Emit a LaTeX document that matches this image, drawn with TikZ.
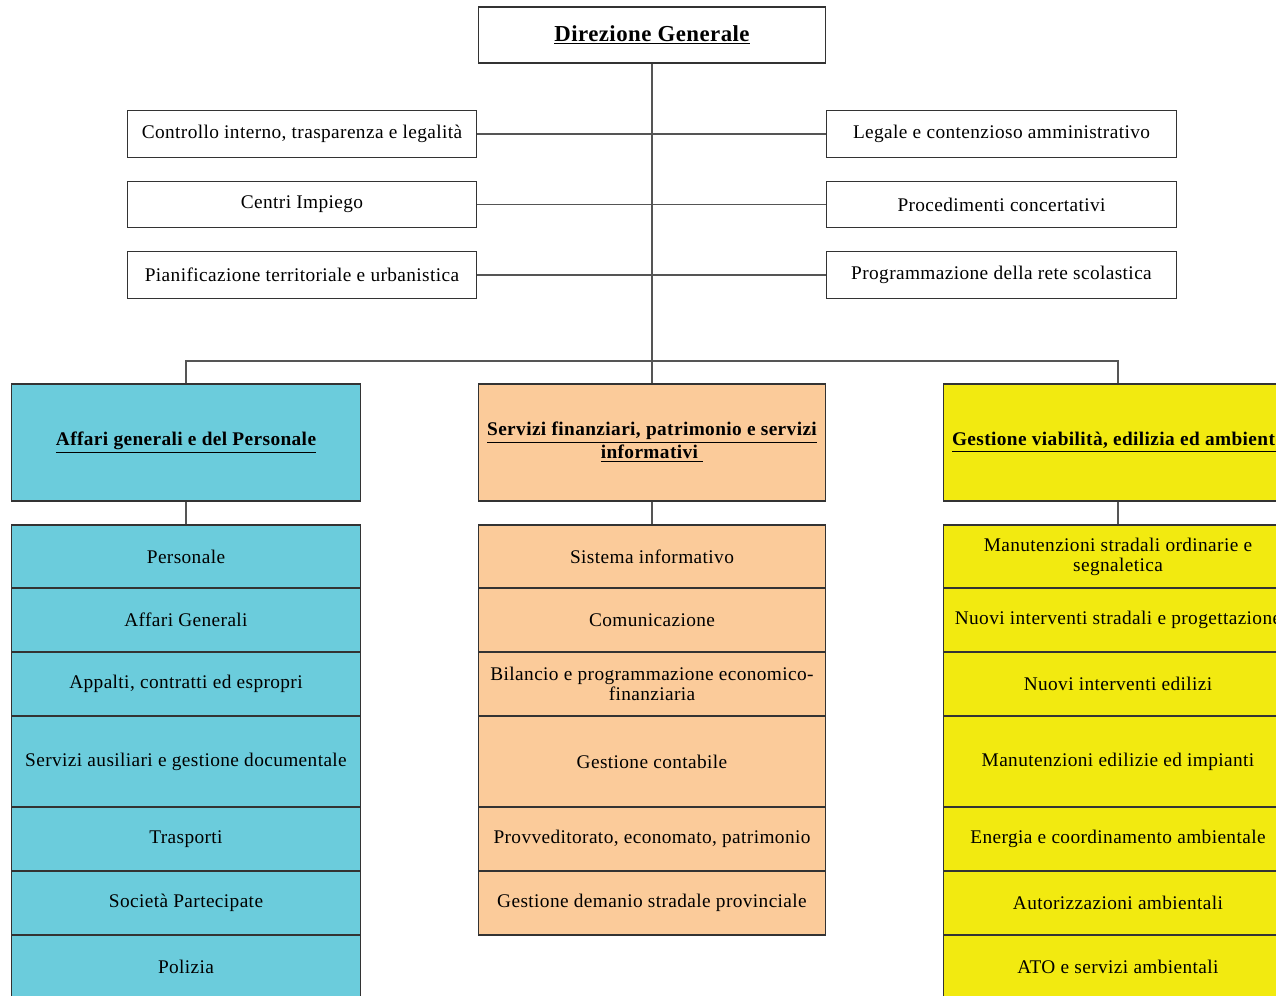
\documentclass[tikz,border=0pt]{standalone}
\usepackage{fontspec}
\setmainfont[LetterSpace=2]{Liberation Serif}
\definecolor{boxline}{HTML}{333333}
\definecolor{linecol}{HTML}{555555}
\definecolor{affcol}{HTML}{6BCCDC}
\definecolor{sercol}{HTML}{FBCB9A}
\definecolor{gescol}{HTML}{F2EA10}
\tikzset{
  box/.style={draw=boxline, line width=0.6pt, inner sep=0pt, align=center,
    font=\fontsize{11}{11.5}\selectfont},
  staff/.style={box, minimum width=7cm, minimum height=0.93cm},
  area/.style={box, minimum width=7cm, minimum height=2.34cm,
    font=\bfseries\fontsize{11}{11.5}\selectfont},
  unit/.style={box, minimum width=7cm},
  link/.style={draw=linecol, line width=0.6pt}
}

\begin{document}
\begin{tikzpicture}[x=0.02cm, y=-0.02cm]
\useasboundingbox (0,0) rectangle (1276,996);
\clip (0,0) rectangle (1276,996);

% top
\node[box, minimum width=6.96cm, minimum height=1.12cm,
  font=\bfseries\fontsize{13}{14}\selectfont] (dg) at (652,35) {\underline{Direzione Generale}};

% staff offices
\node[staff] (ctrl) at (302,134) {Controllo interno, trasparenza e legalità};
\node[staff] (centri) at (302,204.5) {Centri Impiego};
\node[staff] (pianif) at (302,275) {Pianificazione territoriale e urbanistica};
\node[staff] (legale) at (1001.5,134) {Legale e contenzioso amministrativo};
\node[staff] (proced) at (1001.5,204.5) {Procedimenti concertativi};
\node[staff] (progr) at (1001.5,275) {Programmazione della rete scolastica};

% areas
\node[area, fill=affcol] (affari) at (186,442.5) {\underline{Affari generali e del Personale}};
\node[area, fill=sercol, minimum width=6.96cm] (servizi) at (652,442.5)
  {\underline{Servizi finanziari, patrimonio e servizi}\\\underline{informativi\ }};
\node[area, fill=gescol] (gestione) at (1118,442.5) {\underline{Gestione viabilità, edilizia ed ambiente}};

% units
\foreach \n/\y/\h/\t in {1/556.5/63/Personale, 2/620/64/Affari Generali,
    3/684/64/{Appalti, contratti ed espropri}, 4/761.5/91/Servizi ausiliari e gestione documentale,
    5/839/64/Trasporti, 6/903/64/Società Partecipate, 7/967/64/Polizia}
  \node[unit, fill=affcol, minimum height=\h*0.02cm] (a\n) at (186,\y) {\t};

\foreach \n/\y/\h/\t in {1/556.5/63/Sistema informativo, 2/620/64/Comunicazione,
    3/684/64/{Bilancio e programmazione economico-\\finanziaria}, 4/761.5/91/Gestione contabile,
    5/839/64/{Provveditorato, economato, patrimonio}, 6/903/64/Gestione demanio stradale provinciale}
  \node[unit, fill=sercol, minimum width=6.96cm, minimum height=\h*0.02cm] (s\n) at (652,\y) {\t};

\foreach \n/\y/\h/\t in {1/556.5/63/{Manutenzioni stradali ordinarie e\\segnaletica},
    2/620/64/Nuovi interventi stradali e progettazione, 3/684/64/Nuovi interventi edilizi,
    4/761.5/91/Manutenzioni edilizie ed impianti, 5/839/64/Energia e coordinamento ambientale,
    6/903/64/Autorizzazioni ambientali, 7/967/64/ATO e servizi ambientali}
  \node[unit, fill=gescol, minimum height=\h*0.02cm] (g\n) at (1118,\y) {\t};

% connectors
\coordinate (bus) at (652,361);
\draw[link] (dg) -- (servizi);
\draw[link] (ctrl) -- (legale);
\draw[link] (centri) -- (proced);
\draw[link] (pianif) -- (progr);
\draw[link] (affari) |- (bus) -| (gestione);
\draw[link] (affari) -- (a1);
\draw[link] (servizi) -- (s1);
\draw[link] (gestione) -- (g1);
\end{tikzpicture}
\end{document}
